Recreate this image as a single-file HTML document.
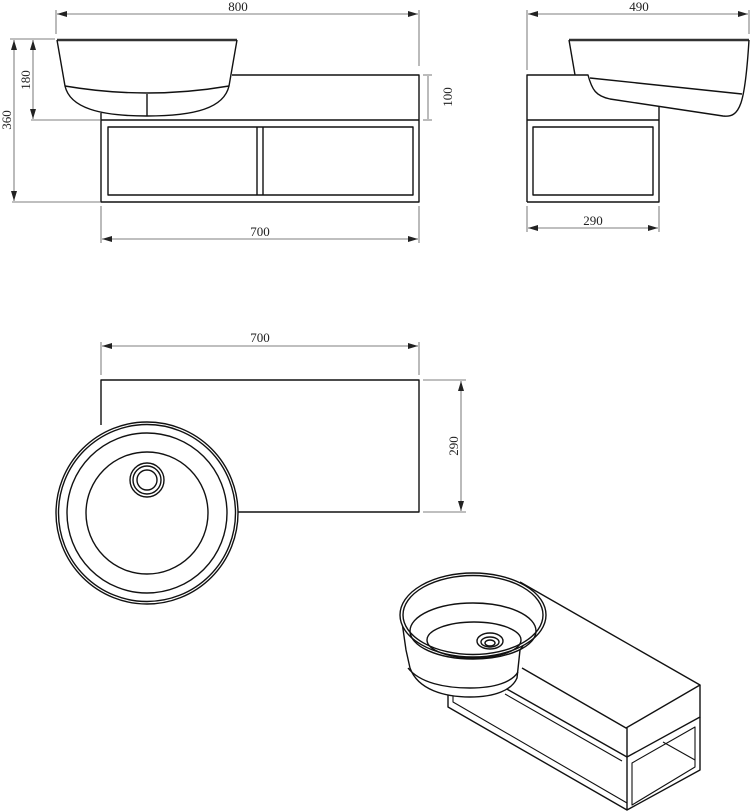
<!DOCTYPE html>
<html><head><meta charset="utf-8"><style>
html,body{margin:0;padding:0;background:#fff;}
svg{display:block}
text{font-family:"Liberation Serif",serif;font-size:13px;fill:#222}
</style></head><body>
<svg width="750" height="812" viewBox="0 0 750 812" xmlns="http://www.w3.org/2000/svg">
<defs>
<marker id="a" viewBox="0 0 10 6" refX="10" refY="3" markerWidth="10" markerHeight="6" orient="auto-start-reverse" markerUnits="userSpaceOnUse"><path d="M0,0L10,3L0,6z" fill="#222"/></marker>
</defs>
<g stroke="#555" stroke-width="0.8" fill="none">
<line x1="56" y1="10" x2="56" y2="34"/><line x1="419" y1="10" x2="419" y2="66"/>
<line x1="57" y1="14" x2="418" y2="14" marker-start="url(#a)" marker-end="url(#a)"/>
<line x1="10" y1="39" x2="55" y2="39"/><line x1="31" y1="120" x2="100" y2="120"/><line x1="12" y1="202" x2="100" y2="202"/>
<line x1="14" y1="40" x2="14" y2="201" marker-start="url(#a)" marker-end="url(#a)"/>
<line x1="33" y1="40" x2="33" y2="119" marker-start="url(#a)" marker-end="url(#a)"/>
<line x1="101" y1="206" x2="101" y2="243"/><line x1="419" y1="206" x2="419" y2="243"/>
<line x1="102" y1="239" x2="418" y2="239" marker-start="url(#a)" marker-end="url(#a)"/>
<line x1="423" y1="75" x2="432" y2="75"/><line x1="423" y1="120" x2="432" y2="120"/>
<line x1="428" y1="76" x2="428" y2="119"/>
<line x1="527" y1="10" x2="527" y2="70"/><line x1="749" y1="10" x2="749" y2="34"/>
<line x1="528" y1="14" x2="748" y2="14" marker-start="url(#a)" marker-end="url(#a)"/>
<line x1="527" y1="206" x2="527" y2="232"/><line x1="659" y1="206" x2="659" y2="232"/>
<line x1="528" y1="228" x2="658" y2="228" marker-start="url(#a)" marker-end="url(#a)"/>
<line x1="101" y1="342" x2="101" y2="375"/><line x1="419" y1="342" x2="419" y2="375"/>
<line x1="102" y1="346" x2="418" y2="346" marker-start="url(#a)" marker-end="url(#a)"/>
<line x1="423" y1="380" x2="466" y2="380"/><line x1="423" y1="512" x2="466" y2="512"/>
<line x1="461" y1="381" x2="461" y2="511" marker-start="url(#a)" marker-end="url(#a)"/>
</g>
<g>
<text x="238" y="11" text-anchor="middle">800</text>
<text x="260" y="236" text-anchor="middle">700</text>
<text transform="translate(11,120) rotate(-90)" text-anchor="middle">360</text>
<text transform="translate(30,80) rotate(-90)" text-anchor="middle">180</text>
<text transform="translate(452,97) rotate(-90)" text-anchor="middle">100</text>
<text x="639" y="11" text-anchor="middle">490</text>
<text x="593" y="225" text-anchor="middle">290</text>
<text x="260" y="342" text-anchor="middle">700</text>
<text transform="translate(458,446) rotate(-90)" text-anchor="middle">290</text>
</g>
<g stroke="#111" stroke-width="1.4" fill="none" stroke-linejoin="round">
<line x1="57" y1="40" x2="237" y2="40" stroke-width="2.5" stroke="#333"/>
<path d="M57,40 L65,86 C70,108 100,116 147,116 C195,116 224,108 229,86 L237,40"/>
<path d="M65,86 Q147,100 229,86"/>
<line x1="147" y1="94" x2="147" y2="116"/>
<path d="M232,75 L419,75 L419,202 L101,202 L101,113"/>
<line x1="101" y1="120" x2="419" y2="120"/>
<rect x="108" y="127" width="305" height="68"/>
<line x1="257" y1="127" x2="257" y2="195"/><line x1="263" y1="127" x2="263" y2="195"/>
<line x1="569" y1="40" x2="749" y2="40" stroke-width="2.5" stroke="#333"/>
<path d="M569,40 L575,75"/>
<path d="M527,202 L527,75 L588,75 C592,90 596,96 610,99 L723,116 C740,118 745,105 749,40"/>
<path d="M590,78 L742,94"/>
<path d="M659,107 L659,202 L527,202"/>
<line x1="527" y1="120" x2="659" y2="120"/>
<rect x="533" y="127" width="120" height="68"/>
<path d="M101,425 L101,380 L419,380 L419,512 L238,512"/>
<circle cx="147" cy="513" r="91" fill="#fff"/>
<circle cx="147" cy="513" r="88.5"/>
<circle cx="147" cy="513" r="80"/>
<circle cx="147" cy="513" r="61"/>
<circle cx="147" cy="480" r="17"/><circle cx="147" cy="480" r="14"/><circle cx="147" cy="480" r="10"/>
<!-- isometric -->
<path d="M520,582 L700,685 L626,728 L522,668"/>
<path d="M520,582 L520,588"/>
<path d="M700,685 L700,717 L627,757 L627,728"/>
<path d="M627,757 L627,810 L700,770 L700,717"/>
<path d="M632,805 L632,763 L695,727 L695,767 Z" stroke-width="1.1"/>
<path d="M663,742 L695,760" stroke-width="1.1"/>
<path d="M448,695 L448,707 L627,810"/>
<path d="M453,695 L453,702 L627,803" stroke-width="1.1"/>
<path d="M505,688 L627,757"/>
<path d="M505,694 L622,761" stroke-width="1.1"/>
<path d="M401,615 L406,650 L410,668 C418,690 445,697 470,697 C495,697 512,690 517,678 L520,650 L545,615" fill="#fff"/>
<path d="M408,668 C420,683 445,688 470,688 C495,688 512,682 518,672"/>
<ellipse cx="473" cy="615" rx="73" ry="42" fill="#fff"/>
<ellipse cx="473" cy="615" rx="70" ry="39.5"/>
<ellipse cx="473" cy="631" rx="63" ry="28"/>
<ellipse cx="474" cy="640" rx="47" ry="18"/>
<ellipse cx="490" cy="641" rx="13" ry="8"/><ellipse cx="490" cy="642" rx="9" ry="5"/><ellipse cx="490" cy="643" rx="5" ry="3"/>
</g>
</svg>
</body></html>
